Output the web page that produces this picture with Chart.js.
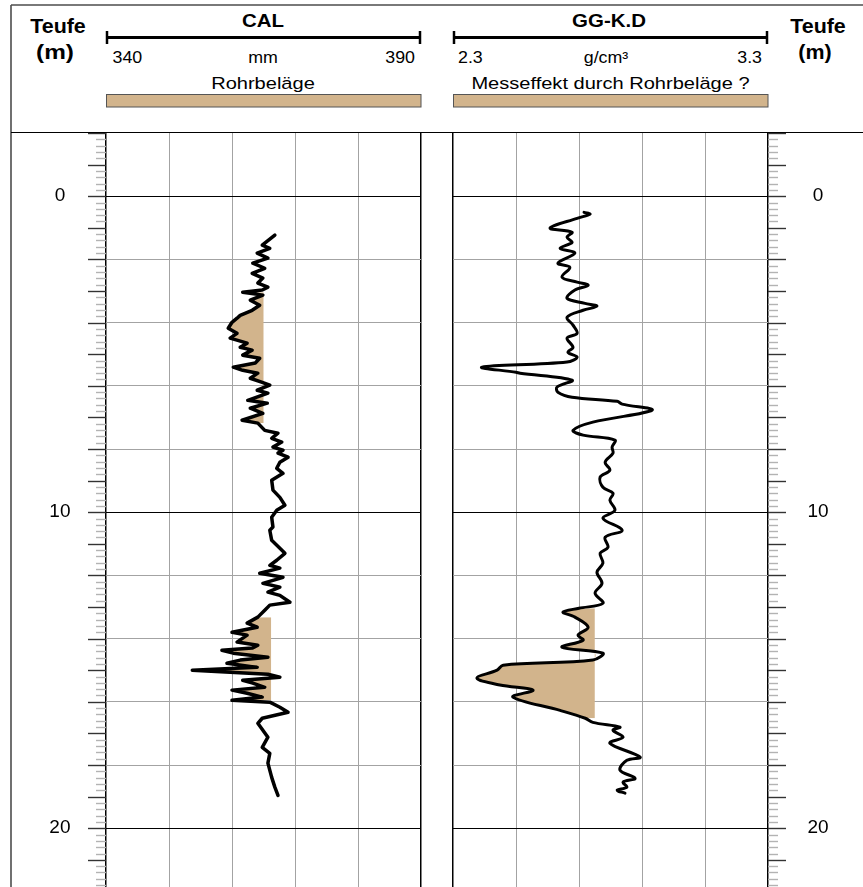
<!DOCTYPE html>
<html>
<head>
<meta charset="utf-8">
<title>CAL / GG-K.D</title>
<script src="https://cdn.jsdelivr.net/npm/chart.js@4.4.1/dist/chart.umd.min.js"></script>
<style>
    html, body { margin: 0; padding: 0; background: #fff; }
    #page { position: relative; width: 863px; height: 887px; overflow: hidden; }
    #page svg, #page canvas { position: absolute; }
    #head { left: 0; top: 0; }
    #calChart { left: 12px; top: 133px; }
    #densChart { left: 437px; top: 133px; }
</style>
</head>
<body>
<div id="page">
    <svg id="head" width="863" height="887" xmlns="http://www.w3.org/2000/svg">
        <g stroke="#4d4d4d" stroke-width="1.6">
            <line x1="11" y1="5" x2="863" y2="5"/>
            <line x1="11" y1="5" x2="11" y2="887"/>
        </g>
        <line x1="11" y1="132.5" x2="863" y2="132.5" stroke="#000" stroke-width="1.2"/>

        <!-- Skalenbalken -->
        <g stroke="#000">
            <line x1="106" y1="37.5" x2="421" y2="37.5" stroke-width="3"/>
            <line x1="107" y1="31" x2="107" y2="44" stroke-width="2.5"/>
            <line x1="420" y1="31" x2="420" y2="44" stroke-width="2.5"/>
            <line x1="453" y1="37.5" x2="768" y2="37.5" stroke-width="3"/>
            <line x1="454" y1="31" x2="454" y2="44" stroke-width="2.5"/>
            <line x1="767" y1="31" x2="767" y2="44" stroke-width="2.5"/>
        </g>
        <rect x="106.5" y="94.5" width="314.5" height="12.5" fill="#D2B48C" stroke="#555" stroke-width="1"/>
        <rect x="453.5" y="94.5" width="314.5" height="12.5" fill="#D2B48C" stroke="#555" stroke-width="1"/>

        <g font-family="Liberation Sans, Arial, sans-serif" fill="#000">
            <text transform="translate(58,33) scale(1.1,1)" text-anchor="middle" font-weight="bold" font-size="19.5">Teufe</text>
            <text transform="translate(55,59) scale(1.25,1)" text-anchor="middle" font-weight="bold" font-size="19.5">(m)</text>
            <text transform="translate(818,33) scale(1.1,1)" text-anchor="middle" font-weight="bold" font-size="19.5">Teufe</text>
            <text transform="translate(815,59) scale(1.1,1)" text-anchor="middle" font-weight="bold" font-size="19.5">(m)</text>

            <text transform="translate(263,26.5) scale(1.17,1)" text-anchor="middle" font-weight="bold" font-size="17.5">CAL</text>
            <text transform="translate(609,26.5) scale(1.17,1)" text-anchor="middle" font-weight="bold" font-size="17.5">GG-K.D</text>

            <text transform="translate(112.5,63) scale(1.08,1)" font-size="16.5">340</text>
            <text transform="translate(263,63) scale(1.08,1)" text-anchor="middle" font-size="16.5">mm</text>
            <text transform="translate(415,63) scale(1.08,1)" text-anchor="end" font-size="16.5">390</text>
            <text transform="translate(458,63) scale(1.08,1)" font-size="16.5">2.3</text>
            <text transform="translate(606,63) scale(1.08,1)" text-anchor="middle" font-size="16.5">g/cm³</text>
            <text transform="translate(762,63) scale(1.08,1)" text-anchor="end" font-size="16.5">3.3</text>

            <text transform="translate(263,89) scale(1.18,1)" text-anchor="middle" font-size="17">Rohrbeläge</text>
            <text transform="translate(610.5,88.5) scale(1.18,1)" text-anchor="middle" font-size="17">Messeffekt durch Rohrbeläge ?</text>
        </g>
    </svg>
    <canvas id="calChart" width="425" height="754"></canvas>
    <canvas id="densChart" width="426" height="754"></canvas>
</div>

<script>
    // Teufe (m) und Kaliber (mm)
    const calDepth = [1.23, 1.55, 1.65, 1.80, 1.96, 2.12, 2.28, 2.44, 2.59, 2.75,
        2.88, 2.97, 3.04, 3.13, 3.29, 3.45, 3.61, 3.77, 3.86, 3.99,
        4.18, 4.34, 4.49, 4.65, 4.78, 4.87, 5.03, 5.13, 5.28, 5.41,
        5.51, 5.60, 5.76, 5.89, 5.98, 6.14, 6.23, 6.46, 6.55, 6.71,
        6.87, 7.09, 7.18, 7.41, 7.50, 7.66, 7.78, 7.94, 8.04, 8.13,
        8.26, 8.42, 8.61, 8.77, 8.99, 9.30, 9.53, 9.78, 9.94, 10.16,
        10.47, 10.57, 10.89, 11.14, 11.30, 11.52, 11.68, 11.77, 11.93, 12.06,
        12.25, 12.37, 12.53, 12.63, 12.85, 12.94, 13.10, 13.32, 13.51, 13.64,
        13.80, 13.89, 14.11, 14.21, 14.30, 14.37, 14.46, 14.59, 14.68, 14.78,
        14.91, 15.00, 15.13, 15.22, 15.32, 15.41, 15.54, 15.63, 15.73, 15.85,
        15.95, 16.01, 16.17, 16.33, 16.52, 16.68, 16.90, 17.12, 17.44, 17.63,
        17.94, 18.39, 18.70, 18.96];
    const calValue = [366.8, 364.8, 366.0, 364.0, 365.7, 363.3, 365.2, 363.2, 364.9, 364.1,
        365.7, 364.8, 361.7, 364.9, 362.9, 364.4, 363.2, 361.3, 360.8, 360.0,
        359.4, 360.8, 359.7, 362.4, 361.3, 363.2, 361.7, 364.4, 363.7, 360.2,
        361.7, 364.1, 362.9, 364.8, 366.0, 364.0, 365.7, 362.5, 365.6, 362.9,
        364.9, 361.6, 364.1, 365.2, 367.3, 366.3, 367.9, 366.5, 368.1, 367.3,
        368.9, 367.6, 367.1, 368.1, 366.3, 366.5, 367.6, 368.4, 367.1, 366.3,
        366.5, 366.0, 366.3, 367.6, 368.4, 367.1, 366.0, 367.6, 364.4, 368.1,
        364.9, 367.6, 365.7, 367.6, 369.2, 366.0, 365.2, 364.1, 362.4, 364.0,
        360.0, 362.4, 360.8, 364.1, 363.2, 358.4, 360.2, 365.7, 361.3, 359.2,
        364.0, 353.7, 365.7, 367.6, 361.7, 363.3, 365.2, 360.0, 362.4, 364.8,
        360.0, 366.0, 367.6, 368.9, 364.8, 364.1, 364.9, 365.7, 364.8, 366.0,
        365.7, 366.3, 366.8, 367.3];

    // Teufe (m) und Dichte GG-K.D (g/cm³)
    const densDepth = [0.51, 0.57, 0.70, 1.01, 1.14, 1.30, 1.46, 1.65, 1.80, 2.12,
        2.25, 2.56, 2.72, 2.82, 2.97, 3.23, 3.39, 3.48, 3.61, 3.83,
        4.08, 4.34, 4.49, 4.78, 4.94, 5.09, 5.25, 5.41, 5.57, 5.60,
        5.82, 6.04, 6.20, 6.36, 6.49, 6.58, 6.77, 7.15, 7.41, 7.56,
        7.72, 7.94, 8.13, 8.42, 8.67, 8.89, 9.21, 9.40, 9.62, 9.94,
        10.19, 10.57, 10.79, 11.11, 11.30, 11.61, 11.90, 12.25, 12.56, 12.88,
        13.04, 13.16, 13.32, 13.64, 13.89, 14.05, 14.27, 14.46, 14.68, 14.84,
        15.00, 15.25, 15.47, 15.63, 15.85, 16.27, 16.52, 16.65, 16.80, 16.90,
        17.12, 17.31, 17.75, 17.85, 18.16, 18.42, 18.54, 18.70, 18.80, 18.89];
    const densValue = [2.716, 2.735, 2.694, 2.608, 2.678, 2.662, 2.678, 2.640, 2.687, 2.633,
        2.671, 2.646, 2.694, 2.729, 2.687, 2.662, 2.719, 2.757, 2.713, 2.662,
        2.681, 2.694, 2.662, 2.681, 2.665, 2.694, 2.662, 2.392, 2.500, 2.513,
        2.678, 2.630, 2.633, 2.678, 2.821, 2.837, 2.932, 2.744, 2.681, 2.713,
        2.814, 2.805, 2.808, 2.783, 2.798, 2.767, 2.776, 2.808, 2.798, 2.814,
        2.776, 2.837, 2.783, 2.792, 2.767, 2.776, 2.757, 2.773, 2.751, 2.776,
        2.700, 2.649, 2.687, 2.729, 2.697, 2.713, 2.646, 2.776, 2.744, 2.459,
        2.440, 2.376, 2.449, 2.554, 2.490, 2.640, 2.720, 2.744, 2.830, 2.808,
        2.840, 2.798, 2.894, 2.852, 2.830, 2.878, 2.840, 2.852, 2.821, 2.846];

    // Rohrbeläge: Teufenbereiche und Grenzwert
    const calZoneTop = [3.04, 13.32];
    const calZoneBottom = [7.18, 15.95];
    const calZoneCut = [365.0, 366.2];
    const densZoneTop = [13.04];
    const densZoneBottom = [16.52];
    const densZoneCut = [2.75];

    // Gitter und Beschriftung
    const calGrid = [340, 350, 360, 370, 380, 390];
    const densGrid = [2.3, 2.5, 2.7, 2.9, 3.1, 3.3];
    const depthGrid = [0, 2, 4, 6, 8, 10, 12, 14, 16, 18, 20];
    const depthLabels = [0, 10, 20];

    const DEPTH_MIN = -2;
    const DEPTH_MAX = 21.86;
    const TAN = '#D2B48C';
    const FONT = 'Liberation Sans, Arial, sans-serif';

    Chart.defaults.font.family = FONT;

    // Teufenstriche alle 0.2 m, lang alle 1 m
    const depthTickMarks = {
        id: 'depthTickMarks',
        afterDraw(chart, args, opts) {
            const scale = chart.scales.y;
            const ctx = chart.ctx;
            const left = opts.side === 'left';
            const x0 = left ? chart.chartArea.left : chart.chartArea.right;
            const dir = left ? -1 : 1;
            ctx.save();
            ctx.lineWidth = 1.4;
            for (let i = Math.ceil(scale.min * 5); i <= Math.floor(scale.max * 5); i++) {
                const major = i % 5 === 0;
                const py = Math.round(scale.getPixelForValue(i / 5)) + 0.5;
                ctx.strokeStyle = major ? '#333' : '#b3b3b3';
                ctx.beginPath();
                ctx.moveTo(x0, py);
                ctx.lineTo(x0 + dir * (major ? 18 : 10), py);
                ctx.stroke();
            }
            ctx.restore();
        }
    };

    function zip(depth, value) {
        const n = Math.min(depth.length, value.length);
        const out = [];
        for (let i = 0; i < n; i++) {
            out.push({x: value[i], y: depth[i]});
        }
        return out;
    }

    // Fläche zwischen Kurve und Grenzwert, nur wo die Kurve darunter liegt
    function zoneData(points, top, bottom, cut) {
        return points
            .filter(p => p.y >= top && p.y <= bottom)
            .map(p => ({x: Math.min(p.x, cut), y: p.y}));
    }

    function makeTrack(canvasId, side, xMin, xMax, xGrid, points, zones, tension, lineWidth) {
        const datasets = [{
            data: points,
            borderColor: '#000',
            borderWidth: lineWidth,
            borderJoinStyle: 'round',
            borderCapStyle: 'round',
            pointRadius: 0,
            tension: tension,
            fill: false
        }];
        zones.forEach((z) => {
            datasets.push({
                data: zoneData(points, z.top, z.bottom, z.cut),
                borderColor: 'rgba(0,0,0,0)',
                borderWidth: 0,
                backgroundColor: TAN,
                pointRadius: 0,
                tension: tension,
                fill: {value: z.cut}
            });
        });

        const last = xGrid.length - 1;
        return new Chart(document.getElementById(canvasId), {
            type: 'line',
            data: {datasets: datasets},
            plugins: [depthTickMarks],
            options: {
                responsive: false,
                animation: false,
                indexAxis: 'y',
                layout: {
                    padding: side === 'left'
                        ? {left: 0, right: 16, top: 0, bottom: 0}
                        : {left: 16, right: 0, top: 0, bottom: 0}
                },
                scales: {
                    x: {
                        type: 'linear',
                        min: xMin,
                        max: xMax,
                        afterBuildTicks: (s) => { s.ticks = xGrid.map(v => ({value: v})); },
                        grid: {
                            drawTicks: false,
                            color: (c) => (c.index === 0 || c.index === last) ? '#000' : '#a3a3a3',
                            lineWidth: (c) => (c.index === 0 || c.index === last) ? 1.5 : 1
                        },
                        border: {display: false},
                        ticks: {display: false}
                    },
                    y: {
                        type: 'linear',
                        position: side,
                        reverse: true,
                        min: DEPTH_MIN,
                        max: DEPTH_MAX,
                        afterBuildTicks: (s) => { s.ticks = depthGrid.map(v => ({value: v})); },
                        afterFit: (s) => {
                            s.width = side === 'left' ? 94 : 95;
                            s.paddingTop = 0;
                            s.paddingBottom = 0;
                        },
                        grid: {
                            drawTicks: false,
                            color: (c) => c.tick.value % 10 === 0 ? '#000' : '#a3a3a3',
                            lineWidth: 1
                        },
                        border: {display: false},
                        ticks: {
                            padding: side === 'left' ? 35.5 : 39.5,
                            crossAlign: 'center',
                            color: '#000',
                            font: {size: 19},
                            callback: (v) => depthLabels.includes(v) ? String(v) : ''
                        }
                    }
                },
                plugins: {
                    legend: {display: false},
                    tooltip: {enabled: false},
                    filler: {drawTime: 'beforeDatasetsDraw'},
                    depthTickMarks: {side: side}
                }
            }
        });
    }

    const calPoints = zip(calDepth, calValue);
    const densPoints = zip(densDepth, densValue);

    makeTrack('calChart', 'left', 340, 390, calGrid, calPoints,
        calZoneTop.map((t, i) => ({top: t, bottom: calZoneBottom[i], cut: calZoneCut[i]})), 0, 3.5);
    makeTrack('densChart', 'right', 2.3, 3.3, densGrid, densPoints,
        densZoneTop.map((t, i) => ({top: t, bottom: densZoneBottom[i], cut: densZoneCut[i]})), 0.35, 3);
</script>
</body>
</html>
